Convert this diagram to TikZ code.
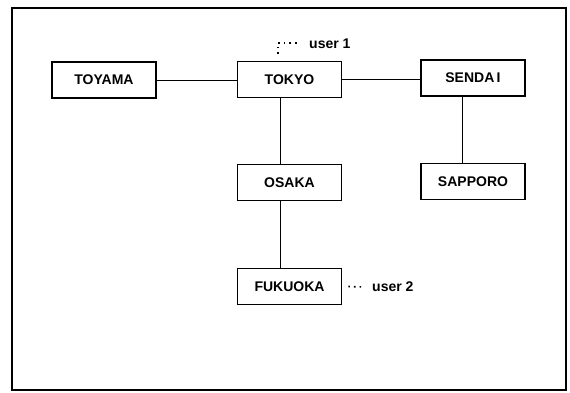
\documentclass[tikz,border=0pt]{standalone}
\usepackage{fontspec}
\setmainfont{Liberation Sans}
\begin{document}
\begin{tikzpicture}[x=1pt,y=-1pt,
  city/.style={draw,line width=1.7pt,minimum width=104pt,minimum height=36pt,inner sep=0pt,
    font=\fontsize{14}{15}\selectfont\bfseries},
  link/.style={line width=1pt},
  dots/.style={line width=1.6pt,dash pattern=on 1.6pt off 4pt},
  lbl/.style={anchor=west,inner sep=0pt,font=\fontsize{14}{15}\selectfont\bfseries}]
\useasboundingbox (0,0) rectangle (570,392);
\draw[line width=1.8pt] (12,8) rectangle (566,390);
\node[city] (toyama) at (104,80) {TOYAMA};
\node[city] (tokyo) at (289.5,79.5) {TOKYO};
\node[city] (sendai) at (473,78) {SENDA\,I};
\node[city] (osaka) at (289.5,182.5) {OSAKA};
\node[city] (sapporo) at (473,181.5) {SAPPORO};
\node[city] (fukuoka) at (289.5,286.5) {FUKUOKA};
\draw[link] (toyama.east) -- (toyama.east -| tokyo.west);
\draw[link] (tokyo.east) -- (tokyo.east -| sendai.west);
\draw[link] ([xshift=-9.5pt]tokyo.south) -- ([xshift=-9.5pt]tokyo.south |- osaka.north);
\draw[link] ([xshift=-9.5pt]osaka.south) -- ([xshift=-9.5pt]osaka.south |- fukuoka.north);
\draw[link] ([xshift=-11pt]sendai.south) -- ([xshift=-11pt]sendai.south |- sapporo.north);
\coordinate (u1a) at (278,54);
\coordinate (u1b) at (278,43);
\node[lbl] (user1) at (309,44) {user 1};
\draw[dots] (u1a) -- (u1b) -- ([xshift=-10pt]user1.west |- u1b);
\node[lbl] (user2) at (372,287) {user 2};
\draw[dots] ([xshift=6pt]fukuoka.east) -- ([xshift=-9pt]user2.west);
\end{tikzpicture}
\end{document}
